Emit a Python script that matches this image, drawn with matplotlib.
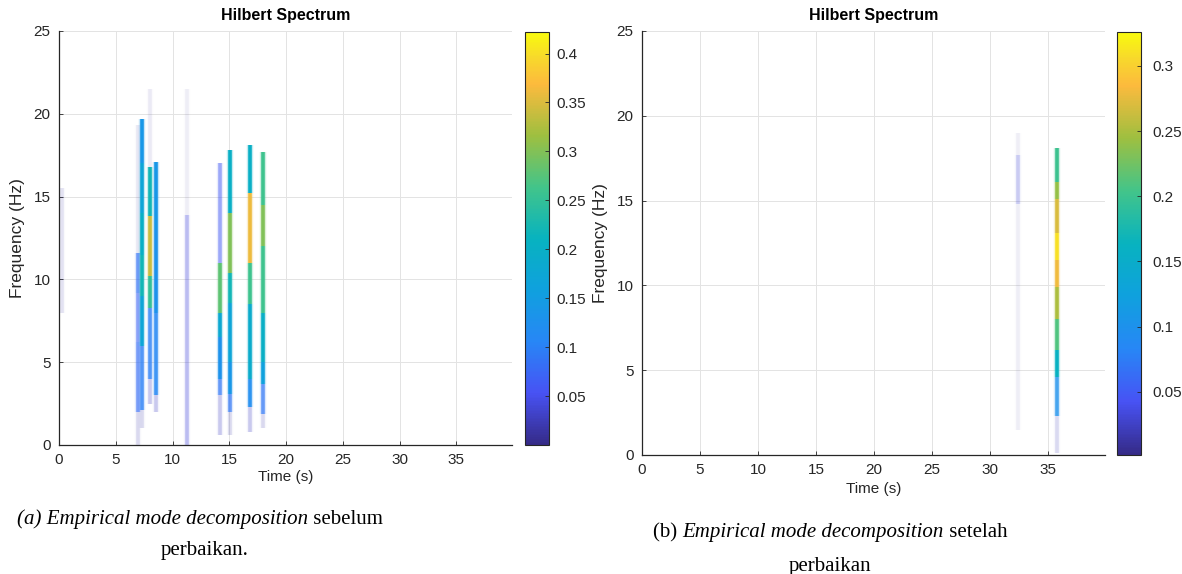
import numpy as np
import matplotlib
matplotlib.use("Agg")
import matplotlib.pyplot as plt
from matplotlib.colors import LinearSegmentedColormap, Normalize
from matplotlib.cm import ScalarMappable

plt.rcParams['font.family'] = ['Liberation Sans', 'DejaVu Sans']

#================= data =====================
# each stroke: time (s), frequency knots (Hz, top -> bottom), amplitude per segment
left_times = [0.3, 6.95, 7.35, 8.0, 8.55, 11.3, 14.15, 15.05, 16.85, 17.95]
left_knots = [
    [15.5, 8.0],
    [19.3, 11.6, 9.2, 6.2, 2.0, 0.0],
    [19.7, 17.0, 14.0, 11.5, 9.0, 6.0, 2.1, 1.0],
    [21.5, 16.8, 13.8, 10.2, 8.3, 4.0, 2.5],
    [17.1, 13.0, 8.0, 3.0, 2.0],
    [21.5, 13.9, 0.0],
    [17.0, 11.0, 8.0, 6.5, 4.0, 3.0, 0.6],
    [17.8, 14.0, 10.4, 8.6, 5.0, 3.1, 2.0, 0.6],
    [18.1, 15.2, 11.0, 8.5, 4.0, 2.3, 0.8],
    [17.7, 14.5, 12.0, 8.0, 5.0, 3.7, 1.9, 1.0],
]
left_vals = [
    [0.015],
    [0.012, 0.085, 0.07, 0.08, 0.02],
    [0.14, 0.17, 0.2, 0.22, 0.17, 0.1, 0.02],
    [0.01, 0.22, 0.34, 0.25, 0.1, 0.03],
    [0.14, 0.13, 0.11, 0.03],
    [0.008, 0.04],
    [0.06, 0.28, 0.18, 0.13, 0.09, 0.03],
    [0.2, 0.3, 0.22, 0.17, 0.14, 0.09, 0.02],
    [0.2, 0.36, 0.26, 0.19, 0.12, 0.03],
    [0.26, 0.3, 0.26, 0.2, 0.16, 0.09, 0.02],
]
right_times = [32.4, 35.75]
right_knots = [
    [19.0, 17.7, 14.8, 1.5],
    [18.1, 16.1, 15.1, 13.1, 11.5, 9.9, 8.0, 6.2, 4.6, 2.3, 0.1],
]
right_vals = [
    [0.006, 0.03, 0.008],
    [0.2, 0.24, 0.27, 0.31, 0.28, 0.25, 0.21, 0.16, 0.1, 0.02],
]
left_clim = [0.0, 0.422]
right_clim = [0.0015, 0.326]
cbar_ticks = [0.05, 0.1, 0.15, 0.2, 0.25, 0.3, 0.35, 0.4]
cap_a = [("(a) Empirical mode decomposition", 'italic'), (" sebelum", 'normal')]
cap_b = [("(b) ", 'normal'), ("Empirical mode decomposition", 'italic'), (" setelah", 'normal')]

#================= parula-like colormap =====================
parula = LinearSegmentedColormap.from_list('parula', [
    (0.000, (0.2081, 0.1663, 0.5292)),
    (0.125, (0.2810, 0.3228, 0.9579)),
    (0.250, (0.1540, 0.5280, 0.9640)),
    (0.375, (0.0600, 0.6300, 0.8700)),
    (0.500, (0.0300, 0.7000, 0.7500)),
    (0.625, (0.2600, 0.7700, 0.5400)),
    (0.750, (0.6200, 0.7500, 0.2500)),
    (0.875, (0.9900, 0.7300, 0.2400)),
    (0.940, (0.9700, 0.8500, 0.1700)),
    (1.000, (0.9763, 0.9831, 0.0538)),
])

W, H = 1182, 574
fig = plt.figure(figsize=(W / 100, H / 100), dpi=100)

def box(x0, y0, x1, y1):  # pixel box -> figure fraction rect
    return [x0 / W, 1 - y1 / H, (x1 - x0) / W, (y1 - y0) / H]

TXT = '#262626'

def panel(ax_rect, cb_rect, times, knots, vals, clim, xlabel_pad, cb_pad):
    ax = fig.add_axes(ax_rect)
    norm = Normalize(*clim)
    for t, k, v in zip(times, knots, vals):
        k = np.asarray(k); v = np.asarray(v)
        rgba = parula(norm(v))
        rgba[:, 3] = np.clip(v / 0.13, 0.06, 1.0)
        halo = rgba.copy()
        halo[:, 3] *= 0.25
        ax.vlines(np.full(len(v), t), k[1:], k[:-1], colors=halo, linewidth=4.6, capstyle='butt')
        ax.vlines(np.full(len(v), t), k[1:], k[:-1], colors=rgba, linewidth=2.6, capstyle='butt')
    ax.set_xlim(0, 39.9)
    ax.set_ylim(0, 25)
    ax.set_xticks(range(0, 40, 5))
    ax.set_yticks(range(0, 26, 5))
    ax.grid(True, color='#e3e3e3', linewidth=0.7)
    ax.set_axisbelow(True)
    for s in ['top', 'right']:
        ax.spines[s].set_visible(False)
    for s in ['left', 'bottom']:
        ax.spines[s].set_color('#262626')
        ax.spines[s].set_linewidth(0.9)
    ax.tick_params(direction='in', length=3, width=0.6, colors=TXT, labelsize=11, pad=6)
    ax.set_title('Hilbert Spectrum', fontsize=11.5, fontweight='bold', color='black', pad=8)
    ax.set_xlabel('Time (s)', fontsize=11, color=TXT, labelpad=xlabel_pad)
    ax.set_ylabel('Frequency (Hz)', fontsize=12.5, color=TXT, labelpad=6)
    cax = fig.add_axes(cb_rect)
    cb = fig.colorbar(ScalarMappable(norm=norm, cmap=parula), cax=cax, ticks=cbar_ticks)
    cb.outline.set_linewidth(0.8)
    cb.outline.set_edgecolor('#262626')
    cax.tick_params(direction='in', length=3, width=0.6, colors=TXT, labelsize=11, pad=cb_pad)
    cax.set_yticklabels([f'{c:g}' for c in cbar_ticks])
    return ax

panel(box(59, 31, 512, 445), box(525, 32, 549, 445),
      left_times, left_knots, left_vals, left_clim, 2, 5)
panel(box(642, 31, 1105, 455), box(1117, 32, 1141, 455),
      right_times, right_knots, right_vals, right_clim, 3, 8)

#================= captions (mixed italic / upright) =====================
fig.canvas.draw()
renderer = fig.canvas.get_renderer()

def caption(parts, cx, y, size=15):
    texts = [fig.text(0, 1 - y / H, s, fontsize=size, style=st, va='baseline',
                      family=['Liberation Serif', 'DejaVu Serif'], color='black')
             for s, st in parts]
    widths = [t.get_window_extent(renderer).width for t in texts]
    x = cx - sum(widths) / 2
    for t, w in zip(texts, widths):
        t.set_x(x / W)
        x += w

caption(cap_a, 200, 524)
caption([("perbaikan.", 'normal')], 205, 555)
caption(cap_b, 830, 537)
caption([("perbaikan", 'normal')], 830, 571)

fig.savefig('out.png', dpi=100, facecolor='white')
